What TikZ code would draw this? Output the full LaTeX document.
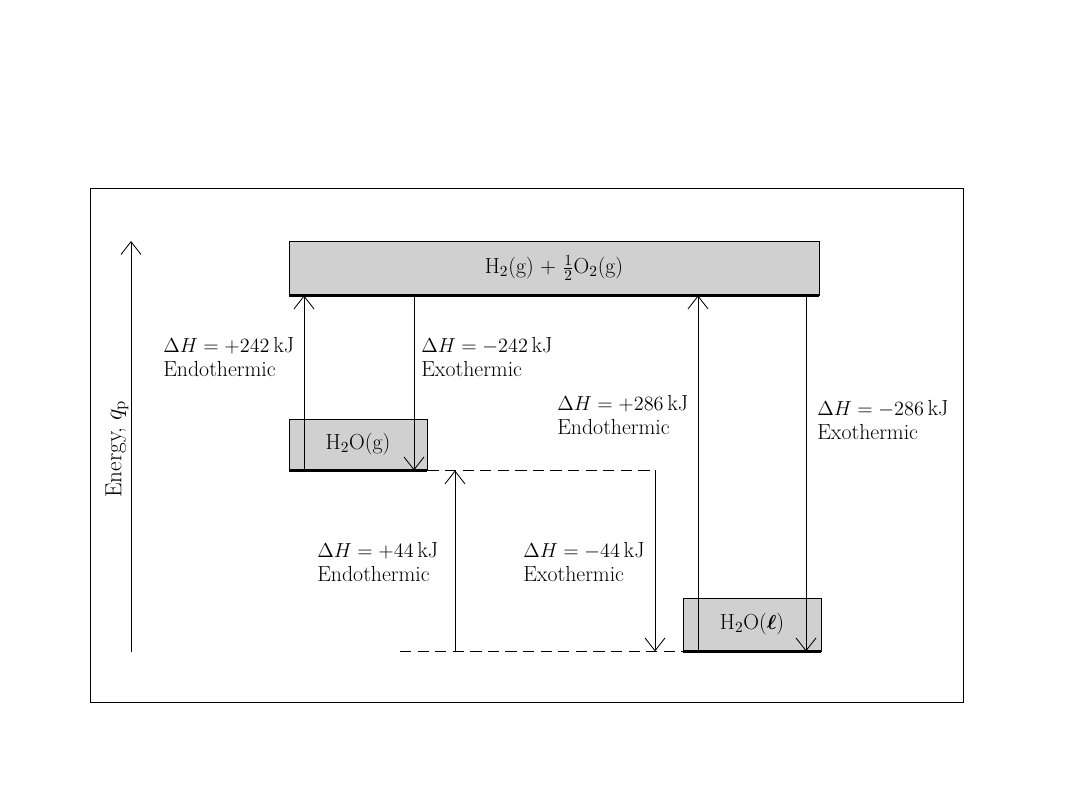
\documentclass[tikz,border=0pt]{standalone}
\usepackage{amsmath,bm}
\usetikzlibrary{arrows.meta}
\definecolor{lvlGray}{HTML}{D0D0D0}

\begin{document}
\begin{tikzpicture}[x=0.025cm, y=-0.025cm,
  every node/.style={font=\fontsize{15.5}{16.5}\selectfont},
  stateBox/.style={draw, fill=lvlGray, inner sep=0pt, line width=0.6pt},
  floor/.style={line width=1.6pt},
  endo/.style={-{Straight Barb[length=3.2mm, width=5mm]}, line width=0.6pt},
  exo/.style={-{Straight Barb[length=3.2mm, width=5mm]}, line width=0.6pt},
  guide/.style={dash pattern=on 8pt off 4.5pt, line width=0.6pt},
  info/.style={anchor=west, align=left, inner sep=0pt,
    font=\fontsize{15.5}{16.5}\selectfont},
]
\useasboundingbox (0,0) rectangle (1080,810);

% Frame
\draw[line width=0.7pt] (90,188) rectangle (963,702);

% Energy axis
\coordinate (eBot) at (131,652);
\coordinate (eTop) at (131,241);
\draw[endo] (eBot) -- (eTop);
\node[rotate=90, font=\fontsize{16.5}{18}\selectfont] (elabel) at (117,449) {Energy, $q_{\mathrm{p}}$};

% Levels
\node[stateBox, minimum width=13.25cm, minimum height=1.35cm] (top) at (554,268)
  {H$_2$(g) + $\tfrac{1}{2}$O$_2$(g)};
\node[stateBox, minimum width=3.45cm, minimum height=1.275cm] (gas) at (358,444.5)
  {H$_2$O(g)};
\node[stateBox, minimum width=3.45cm, minimum height=1.325cm] (liq) at (752,624.5)
  {H$_2$O($\bm{\ell}$)};
\draw[floor] (top.south west) -- (top.south east);
\draw[floor] (gas.south west) -- (gas.south east);
\draw[floor] (liq.south west) -- (liq.south east);

% Dashed guides
\coordinate (corner) at (655,0 |- gas.south);
\coordinate (dashL) at (400,0 |- liq.south);
\draw[guide] (gas.south east) -- (corner);
\draw[guide] (dashL) -- (liq.south west);

% Gas <-> top
\draw[endo] (304,0 |- gas.south) -- (304,0 |- top.south);
\draw[exo] (414,0 |- top.south) -- (414,0 |- gas.south);
% Liquid <-> gas
\draw[endo] (455,0 |- liq.south) -- (455,0 |- gas.south);
\draw[exo] (corner) -- (corner |- liq.south);
% Liquid <-> top
\draw[endo] (698,0 |- liq.south) -- (698,0 |- top.south);
\draw[exo] (806,0 |- top.south) -- (806,0 |- liq.south);

% Labels
\node[info] (l1) at (163,357) {$\Delta H = +242$\,kJ\\Endothermic};
\node[info] (l2) at (421,357) {$\Delta H = -242$\,kJ\\Exothermic};
\node[info] (l3) at (557,415) {$\Delta H = +286$\,kJ\\Endothermic};
\node[info] (l4) at (817,420) {$\Delta H = -286$\,kJ\\Exothermic};
\node[info] (l5) at (317,562) {$\Delta H = +44$\,kJ\\Endothermic};
\node[info] (l6) at (523,562) {$\Delta H = -44$\,kJ\\Exothermic};

\end{tikzpicture}
\end{document}
